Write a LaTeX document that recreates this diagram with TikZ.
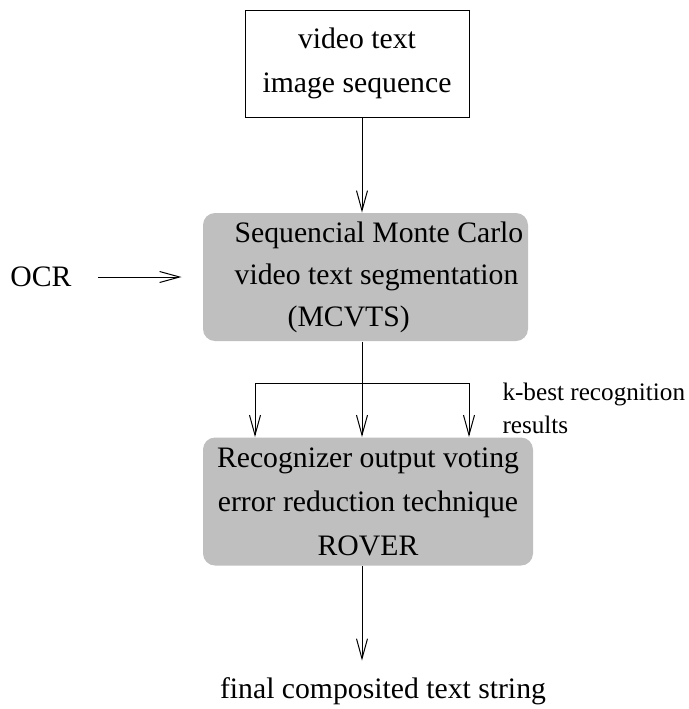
\documentclass[tikz,border=0pt]{standalone}
\usepackage{fontspec}
\setmainfont{Liberation Serif}
\usetikzlibrary{arrows.meta}

\begin{document}
\begin{tikzpicture}[x=0.5pt,y=-0.5pt,line width=0.5pt,
    >={Straight Barb[length=10pt,width=5.5pt]},
    txt/.style={font=\fontsize{14.85}{22}\selectfont,align=center,inner sep=0pt},
    frame/.style={txt,draw,minimum width=112pt,minimum height=53.5pt},
    stage/.style={txt,fill=gray!50,rounded corners=6pt,minimum height=64pt}]
                \useasboundingbox (0,0) rectangle (689,709);
                \node[frame] (seq) at (357,63.5) {video text\\image sequence};
                \node[stage,align=left,minimum width=162.5pt,font=\fontsize{14.85}{21}\selectfont] (mcvts) at (365.5,277) {\hspace*{13.5pt}Sequencial Monte Carlo\\\hspace*{13.5pt}video text segmentation\\\hspace*{40pt}(MCVTS)};
                \node[stage,minimum width=165pt] (rover) at (368,501.5) {Recognizer output voting\\error reduction technique\\ROVER};
                \node[txt] (ocr) at (41,277) {OCR};
                \node[txt,anchor=base] (final) at (383,698) {final composited text string};
                \node[txt,font=\fontsize{12.6}{16.5}\selectfont,align=left,anchor=west] (kbest) at (502,408) {k-best recognition\\results};
                \coordinate (axis) at (362,0);
                \coordinate (forkl) at (255,383);
                \coordinate (fork) at (362,383);
                \coordinate (forkr) at (469,383);
                \draw[->] (seq.south -| axis) -- (mcvts.north -| axis);
                \draw[->,shorten <=13pt,shorten >=10.5pt] (ocr) -- (ocr -| mcvts.west);
                \draw (mcvts.south -| axis) -- (fork);
                \draw (forkl) -- (forkr);
                \foreach \p in {forkl,fork,forkr}
                    \draw[->] (\p) -- (\p |- rover.north);
                \draw[->,shorten >=8pt] (rover.south -| axis) -- (final.north -| axis);
            \end{tikzpicture}
\end{document}
